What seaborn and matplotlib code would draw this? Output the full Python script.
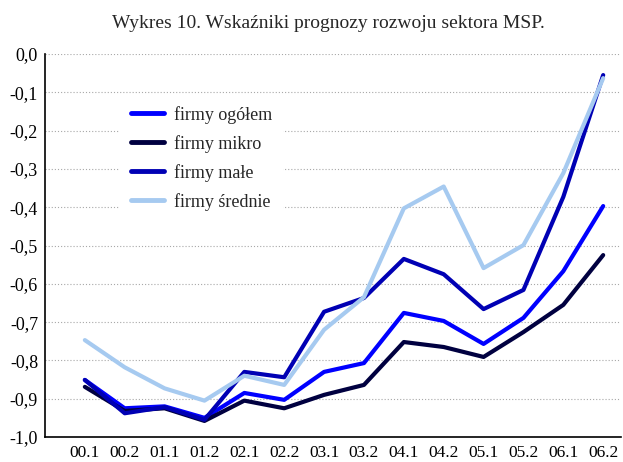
import pandas as pd
import matplotlib.pyplot as plt
import seaborn as sns

# Dane
okresy = ["00.1", "00.2", "01.1", "01.2", "02.1", "02.2", "03.1",
          "03.2", "04.1", "04.2", "05.1", "05.2", "06.1", "06.2"]
ogolem = [-0.851, -0.925, -0.920, -0.950, -0.885, -0.903, -0.830,
          -0.807, -0.676, -0.697, -0.757, -0.689, -0.567, -0.397]
mikro = [-0.869, -0.932, -0.925, -0.958, -0.905, -0.925, -0.890,
         -0.864, -0.752, -0.765, -0.791, -0.726, -0.655, -0.525]
male = [-0.851, -0.938, -0.922, -0.955, -0.830, -0.844, -0.673,
        -0.637, -0.535, -0.575, -0.666, -0.616, -0.373, -0.055]
srednie = [-0.747, -0.818, -0.873, -0.905, -0.840, -0.864, -0.720,
           -0.635, -0.403, -0.346, -0.559, -0.499, -0.311, -0.063]

serie = {
    "firmy ogółem": ogolem,
    "firmy mikro": mikro,
    "firmy małe": male,
    "firmy średnie": srednie,
}
kolory = ["#0000FF", "#000040", "#0000B4", "#A6CAF0"]

rows = []
for nazwa, wartosci in serie.items():
    for i, v in enumerate(wartosci):
        rows.append({"okres": i, "wartosc": v, "seria": nazwa})
df = pd.DataFrame(rows)

sns.set_style("white")
plt.rcParams["font.family"] = ["Liberation Serif", "DejaVu Serif"]

fig = plt.figure(figsize=(6.23, 4.62), dpi=100)
ax = fig.add_axes([0.0722, 0.0541, 0.9248, 0.829])

sns.lineplot(data=df, x="okres", y="wartosc", hue="seria",
             palette=kolory, linewidth=3, ax=ax, legend=True)

ax.set_xlim(-1, 13.45)
ax.set_ylim(-1.0, 0.0)
ax.set_xticks(range(len(okresy)))
ax.set_xticklabels(okresy, fontsize=12.5)
yt = [-1.0 + 0.1 * i for i in range(11)]
ax.set_yticks(yt)
ax.set_yticklabels([f"{v:.1f}".replace(".", ",").replace("-0,0", "0,0") for v in yt],
                   fontsize=13)
ax.tick_params(axis="x", direction="in", length=5, width=1, colors="black", pad=6)
ax.tick_params(axis="y", direction="out", length=3, width=1, colors="black", pad=2)
ax.set_xlabel("")
ax.set_ylabel("")

ax.yaxis.grid(True, linestyle=(0, (1, 1.8)), color="#A8A8A8", linewidth=0.8)
ax.xaxis.grid(False)
for s in ["top", "right"]:
    ax.spines[s].set_visible(False)
for s in ["left", "bottom"]:
    ax.spines[s].set_color("black")
    ax.spines[s].set_linewidth(1.2)

leg = ax.legend(loc="upper left", bbox_to_anchor=(0.115, 0.917), fontsize=13,
                frameon=True, facecolor="white", edgecolor="none", framealpha=1,
                handlelength=1.8, handletextpad=0.55, labelspacing=0.62,
                borderpad=0.6, fancybox=False)
for h in leg.get_lines():
    h.set_linewidth(3.5)

fig.suptitle("Wykres 10. Wskaźniki prognozy rozwoju sektora MSP.",
             fontsize=14, x=0.527, y=0.968)

fig.savefig("out.png", dpi=100)
